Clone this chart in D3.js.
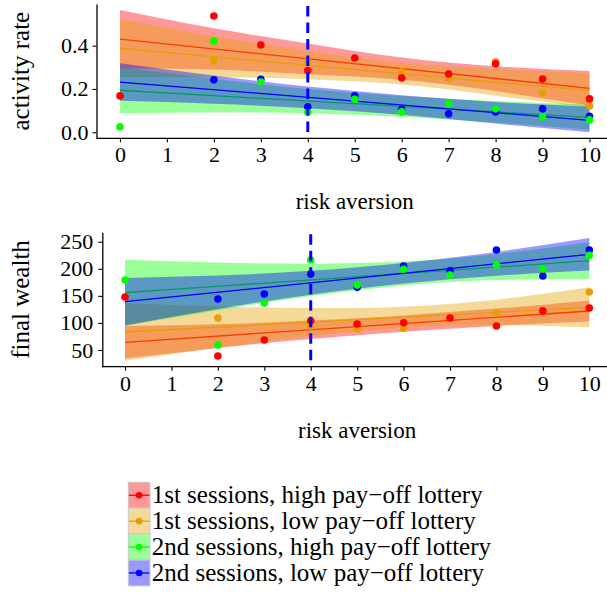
<!DOCTYPE html>
<html>
<head>
<meta charset="utf-8">
<script src="https://cdn.jsdelivr.net/npm/d3@7"></script>
<style>
  body { margin: 0; background: #fff; }
  text { font-family: "Liberation Serif", "Times New Roman", serif; fill: #000; }
  .tick text { font-size: 22px; font-family: "Liberation Serif", serif; }
  .axis-label { font-size: 23px; }
  .axis-label.y { font-size: 25px; }
  .legend text { font-size: 25px; }
</style>
</head>
<body>
<div id="chart"></div>
<script>
// Series (same order everywhere)
const seriesNames = [
    "1st sessions, high pay\u2212off lottery",
    "1st sessions, low pay\u2212off lottery",
    "2nd sessions, high pay\u2212off lottery",
    "2nd sessions, low pay\u2212off lottery"
];
const seriesColors = ["#ff0000", "#e69f00", "#00ff00", "#0000ff"];

const xTicks = [0, 1, 2, 3, 4, 5, 6, 7, 8, 9, 10];
const riskThreshold = 4;

// fitted lines are given at x = 0 and x = 10, bands at these x values
const fitX = [0, 10];
const bandX = [0, 2, 4, 6, 8, 10];

// ACTIVITY RATE
const activityTicks = [0.0, 0.2, 0.4];
const activityHigh1 = [[0, 0.168], [2, 0.537], [3, 0.403], [4, 0.285], [5, 0.343], [6, 0.251], [7, 0.269], [8, 0.316], [9, 0.246], [10, 0.154]];
const activityLow1 = [[2, 0.329], [4, 0.326], [6, 0.279], [7, 0.248], [8, 0.325], [9, 0.182], [10, 0.121]];
const activityHigh2 = [[0, 0.025], [2, 0.422], [3, 0.232], [4, 0.092], [5, 0.152], [6, 0.094], [7, 0.131], [8, 0.108], [9, 0.071], [10, 0.057]];
const activityLow2 = [[2, 0.242], [3, 0.245], [4, 0.118], [5, 0.168], [6, 0.106], [7, 0.085], [8, 0.094], [9, 0.108], [10, 0.074]];
const activityFit = [[0.430, 0.203], [0.388, 0.192], [0.194, 0.069], [0.232, 0.055]];
const activityUpper = [
    [0.565, 0.480, 0.410, 0.345, 0.305, 0.283],
    [0.522, 0.444, 0.375, 0.320, 0.293, 0.272],
    [0.300, 0.247, 0.200, 0.167, 0.144, 0.127],
    [0.319, 0.262, 0.211, 0.171, 0.140, 0.118]
];
const activityLower = [
    [0.295, 0.290, 0.268, 0.243, 0.190, 0.123],
    [0.254, 0.254, 0.245, 0.220, 0.169, 0.112],
    [0.088, 0.091, 0.088, 0.071, 0.044, 0.011],
    [0.145, 0.132, 0.111, 0.081, 0.040, 0.000]
];

// FINAL WEALTH
const wealthTicks = [50, 100, 150, 200, 250];
const wealthHigh1 = [[0, 147.8], [2, 38.9], [3, 68.4], [4, 104.1], [5, 98.0], [6, 100.4], [7, 109.0], [8, 94.2], [9, 122.5], [10, 127.5]];
const wealthLow1 = [[2, 109.0], [4, 94.2], [5, 88.8], [6, 90.0], [8, 118.3], [10, 157.1]];
const wealthHigh2 = [[0, 179.2], [2, 59.2], [3, 136.8], [4, 216.2], [5, 170.0], [6, 199.0], [7, 188.5], [8, 207.0], [9, 199.6], [10, 224.8]];
const wealthLow2 = [[2, 144.1], [3, 153.4], [4, 190.3], [5, 165.7], [6, 205.1], [7, 196.4], [8, 234.7], [9, 186.6], [10, 234.7]];
const wealthFit = [[64.1, 122.0], [83.2, 128.8], [155.8, 214.9], [139.2, 226.7]];
const wealthUpper = [
    [94.1, 97.7, 104.3, 113.8, 126.4, 141.5],
    [136.2, 130.3, 127.4, 130.0, 143.0, 165.8],
    [216.8, 211.6, 209.4, 213.3, 227.1, 248.9],
    [183.2, 187.7, 196.2, 210.7, 231.2, 256.7]
];
const wealthLower = [
    [34.1, 53.7, 70.3, 83.8, 94.4, 102.5],
    [30.2, 54.3, 75.4, 91.0, 96.0, 91.8],
    [94.8, 123.6, 149.4, 169.3, 179.1, 180.9],
    [95.2, 125.7, 152.2, 172.7, 187.2, 196.7]
];

const svg = d3.select("#chart")
    .append("svg")
    .attr("width", 607)
    .attr("height", 594);

function drawPanel(opt) {
    const x = d3.scaleLinear().domain([-0.5, 10.5]).range(opt.xRange);
    const y = d3.scaleLinear().domain(opt.yDomain).range(opt.yRange);
    const g = svg.append("g");

    // ribbon + line per group, like geom_smooth
    opt.fit.forEach((f, i) => {
        const band = bandX.map((bx, j) => ({ x: bx, lo: opt.lower[i][j], hi: opt.upper[i][j] }));
        g.append("path")
            .datum(band)
            .attr("fill", seriesColors[i])
            .attr("fill-opacity", 0.4)
            .attr("d", d3.area()
                .x(d => x(d.x))
                .y0(d => y(d.lo))
                .y1(d => y(d.hi))
                .curve(d3.curveNatural));

        g.append("path")
            .datum(fitX.map((fx, j) => [fx, f[j]]))
            .attr("fill", "none")
            .attr("stroke", seriesColors[i])
            .attr("stroke-width", 1.3)
            .attr("d", d3.line().x(d => x(d[0])).y(d => y(d[1])));
    });

    // points (blue, orange, red, green on top)
    [3, 1, 0, 2].forEach(i => {
        g.selectAll(null)
            .data(opt.points[i])
            .join("circle")
            .attr("cx", d => x(d[0]))
            .attr("cy", d => y(d[1]))
            .attr("r", 3.8)
            .attr("fill", seriesColors[i]);
    });

    // dashed line at threshold
    g.append("line")
        .attr("x1", x(riskThreshold))
        .attr("x2", x(riskThreshold))
        .attr("y1", opt.yRange[1] + 2)
        .attr("y2", opt.yRange[0])
        .attr("stroke", "#0000ff")
        .attr("stroke-width", 3)
        .attr("stroke-dasharray", "10.5,6");

    // axes
    const xAxis = g.append("g")
        .attr("transform", `translate(0,${opt.yRange[0]})`)
        .call(d3.axisBottom(x).tickValues(xTicks).tickSize(4).tickPadding(opt.pad).tickSizeOuter(0));
    const yAxis = g.append("g")
        .attr("transform", `translate(${opt.yAxisX},0)`)
        .call(d3.axisLeft(y).tickValues(opt.yTicks).tickFormat(opt.fmt).tickSize(4).tickPadding(opt.pad).tickSizeOuter(0));
    [xAxis, yAxis].forEach(a => {
        a.select(".domain").attr("stroke", "#000").attr("stroke-width", 1.3);
        a.selectAll(".tick line").attr("stroke", "#000").attr("stroke-width", 1.1);
        a.selectAll(".tick text").attr("fill", "#000");
    });
    xAxis.select(".domain").attr("d", `M${opt.yAxisX},0H607`);

    // axis labels
    g.append("text")
        .attr("x", (opt.xRange[0] + opt.xRange[1]) / 2)
        .attr("y", opt.xTitleY)
        .style("text-anchor", "middle")
        .text("risk aversion")
        .attr("class", "axis-label");

    g.append("text")
        .attr("transform", `translate(29,${(opt.yRange[0] + opt.yRange[1]) / 2}) rotate(-90)`)
        .style("text-anchor", "middle")
        .text(opt.yTitle)
        .attr("class", "axis-label y");
}

drawPanel({
    xRange: [96.5, 613],
    yDomain: [-0.028, 0.5925],
    yRange: [138.3, 4],
    yAxisX: 96.5,
    yTicks: activityTicks,
    fmt: d3.format(".1f"),
    pad: 4,
    points: [activityHigh1, activityLow1, activityHigh2, activityLow2],
    fit: activityFit,
    upper: activityUpper,
    lower: activityLower,
    xTitleY: 209,
    yTitle: "activity rate"
});

drawPanel({
    xRange: [101.8, 612.5],
    yDomain: [19.1, 267.4],
    yRange: [366.7, 232.3],
    yAxisX: 102.3,
    yTicks: wealthTicks,
    fmt: d3.format("d"),
    pad: 5,
    points: [wealthHigh1, wealthLow1, wealthHigh2, wealthLow2],
    fit: wealthFit,
    upper: wealthUpper,
    lower: wealthLower,
    xTitleY: 438,
    yTitle: "final wealth"
});

// LEGEND
const legend = svg.append("g")
    .attr("class", "legend")
    .attr("transform", "translate(128.3,482.3)");

seriesNames.forEach((name, i) => {
    const row = legend.append("g")
        .attr("transform", `translate(0,${i * 25.9})`);

    row.append("rect")
        .attr("width", 21.7)
        .attr("height", 25.9)
        .attr("fill", "#fff")
        .attr("stroke", "#c8c8c8")
        .attr("stroke-width", 1);

    row.append("rect")
        .attr("x", 0.5)
        .attr("y", 0.5)
        .attr("width", 20.7)
        .attr("height", 24.9)
        .attr("fill", seriesColors[i])
        .attr("fill-opacity", 0.4);

    row.append("line")
        .attr("x1", 0.5)
        .attr("x2", 21.2)
        .attr("y1", 12.95)
        .attr("y2", 12.95)
        .attr("stroke", seriesColors[i])
        .attr("stroke-width", 1.3);

    row.append("circle")
        .attr("cx", 10.85)
        .attr("cy", 12.95)
        .attr("r", 3.3)
        .attr("fill", seriesColors[i]);

    row.append("text")
        .attr("x", 23.4)
        .attr("y", 12.95 + 8)
        .text(name);
});
</script>
</body>
</html>
